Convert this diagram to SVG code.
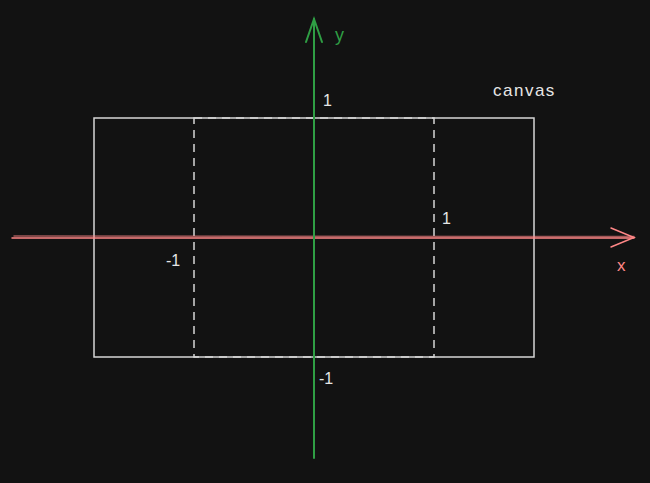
<svg xmlns="http://www.w3.org/2000/svg" width="650" height="483" viewBox="0 0 650 483">
<style>
.frame{fill:none;stroke:#d6d6d6;stroke-width:1.5}
.dash{fill:none;stroke:#d6d6d6;stroke-width:1.5;stroke-dasharray:8 6}
.lbl{font-family:"Liberation Sans",Arial,sans-serif;font-size:16px;fill:#e6e6e6}
</style>
<rect width="650" height="483" fill="#121212"/>
<g id="canvas-rect"><rect class="frame" x="94" y="118" width="440" height="239"/></g>
<g id="unit-rect"><rect class="dash" x="194" y="118" width="240" height="239"/></g>
<g id="connectors">
<g id="x-axis" stroke="#ff8787" fill="none" stroke-width="1.5" stroke-linecap="round">
<line x1="12" y1="238" x2="634" y2="238"/>
<line x1="14" y1="236" x2="634" y2="236.5" stroke-opacity="0.6"/>
<polyline points="611,228 634,237.5 611,247"/>
</g>
<g id="y-axis" stroke="#2f9e44" fill="none" stroke-width="2" stroke-linecap="round">
<line x1="314" y1="458" x2="314" y2="19"/>
<polyline points="306,42 314,19 322,42"/>
</g>
</g>
<g id="labels">
<text class="lbl" x="323" y="106">1</text>
<text class="lbl" x="442" y="224">1</text>
<text class="lbl" x="166" y="266">-1</text>
<text class="lbl" x="319" y="384">-1</text>
<text x="493" y="96" class="lbl" style="font-size:17px;letter-spacing:1.5px">canvas</text>
<text x="335" y="41" style="font-family:'Liberation Sans',sans-serif;font-size:18px;fill:#2f9e44">y</text>
<text x="617" y="271" style="font-family:'Liberation Sans',sans-serif;font-size:17px;fill:#ff8787">x</text>
</g>
</svg>
